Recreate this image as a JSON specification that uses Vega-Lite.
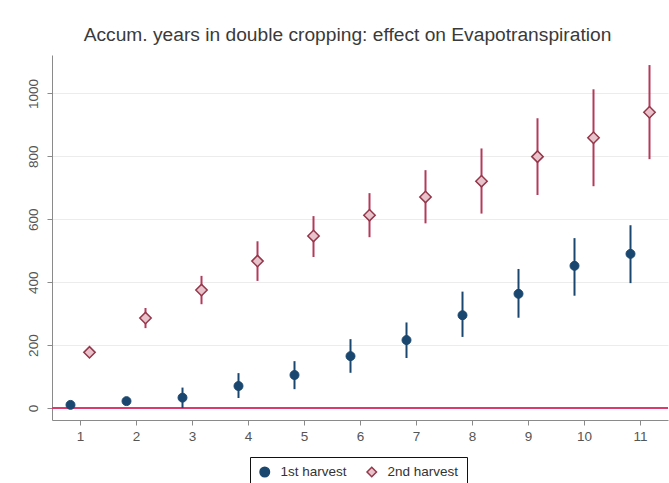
{
  "$schema": "https://vega.github.io/schema/vega-lite/v6.json",
  "width": 616,
  "height": 365,
  "autosize": {"type": "none"},
  "padding": {"left": 52, "top": 55, "right": 1, "bottom": 63},
  "background": "white",
  "config": {
    "font": "Liberation Sans",
    "view": {"stroke": null},
    "axis": {
      "domainColor": "#8a8a8a",
      "tickColor": "#8a8a8a",
      "labelColor": "#555555",
      "labelFontSize": 13.5,
      "tickSize": 5
    }
  },
  "title": {
    "text": "Accum. years in double cropping: effect on Evapotranspiration",
    "fontSize": 19.2,
    "fontWeight": "normal",
    "color": "#3a3a3a",
    "anchor": "middle",
    "frame": "bounds",
    "offset": 10
  },
  "datasets": {
    "effects": [
      {"year": 1, "harvest": "1st harvest", "est": 10, "lo": 2, "hi": 18},
      {"year": 2, "harvest": "1st harvest", "est": 22, "lo": 10, "hi": 34},
      {"year": 3, "harvest": "1st harvest", "est": 33, "lo": 0, "hi": 65},
      {"year": 4, "harvest": "1st harvest", "est": 70, "lo": 32, "hi": 111},
      {"year": 5, "harvest": "1st harvest", "est": 105, "lo": 60, "hi": 149},
      {"year": 6, "harvest": "1st harvest", "est": 165, "lo": 112, "hi": 219},
      {"year": 7, "harvest": "1st harvest", "est": 216, "lo": 159, "hi": 272},
      {"year": 8, "harvest": "1st harvest", "est": 295, "lo": 226, "hi": 370},
      {"year": 9, "harvest": "1st harvest", "est": 363, "lo": 287, "hi": 442},
      {"year": 10, "harvest": "1st harvest", "est": 452, "lo": 357, "hi": 540},
      {"year": 11, "harvest": "1st harvest", "est": 490, "lo": 397, "hi": 581},
      {"year": 1, "harvest": "2nd harvest", "est": 177, "lo": 166, "hi": 188},
      {"year": 2, "harvest": "2nd harvest", "est": 286, "lo": 254, "hi": 318},
      {"year": 3, "harvest": "2nd harvest", "est": 375, "lo": 330, "hi": 420},
      {"year": 4, "harvest": "2nd harvest", "est": 467, "lo": 404, "hi": 530},
      {"year": 5, "harvest": "2nd harvest", "est": 547, "lo": 480, "hi": 610},
      {"year": 6, "harvest": "2nd harvest", "est": 613, "lo": 543, "hi": 683},
      {"year": 7, "harvest": "2nd harvest", "est": 671, "lo": 587, "hi": 756},
      {"year": 8, "harvest": "2nd harvest", "est": 721, "lo": 618, "hi": 825},
      {"year": 9, "harvest": "2nd harvest", "est": 799, "lo": 677, "hi": 921},
      {"year": 10, "harvest": "2nd harvest", "est": 859, "lo": 705, "hi": 1013},
      {"year": 11, "harvest": "2nd harvest", "est": 940, "lo": 791, "hi": 1090}
    ],
    "zero": [{"y": 0}]
  },
  "layer": [
    {
      "data": {"name": "effects"},
      "mark": {"type": "rule", "opacity": 0},
      "encoding": {
        "x": {
          "field": "year",
          "type": "quantitative",
          "scale": {"domain": [0.5, 11.5], "nice": false, "zero": false},
          "axis": {
            "title": null,
            "values": [1, 2, 3, 4, 5, 6, 7, 8, 9, 10, 11],
            "format": "d",
            "grid": false,
            "labelPadding": 4,
            "labelFlush": false
          }
        },
        "y": {
          "field": "est",
          "type": "quantitative",
          "scale": {"domain": [-38, 1122], "nice": false, "zero": false},
          "axis": {
            "title": null,
            "values": [0, 200, 400, 600, 800, 1000],
            "format": "d",
            "grid": true,
            "gridColor": "#ececec",
            "gridWidth": 1,
            "labelAngle": 270,
            "labelAlign": "center",
            "labelBaseline": "bottom",
            "labelPadding": 7
          }
        }
      }
    },
    {
      "data": {"name": "zero"},
      "mark": {"type": "rule", "color": "#d93c6c", "strokeWidth": 2},
      "encoding": {
        "y": {"field": "y", "type": "quantitative"}
      }
    },
    {
      "data": {"name": "effects"},
      "transform": [{"filter": "datum.harvest === '1st harvest'"}],
      "mark": {"type": "rule", "strokeWidth": 2, "color": "#1a476f", "xOffset": -9.5},
      "encoding": {
        "x": {"field": "year", "type": "quantitative"},
        "y": {"field": "lo", "type": "quantitative"},
        "y2": {"field": "hi"}
      }
    },
    {
      "data": {"name": "effects"},
      "transform": [{"filter": "datum.harvest === '2nd harvest'"}],
      "mark": {"type": "rule", "strokeWidth": 2, "color": "#b33a5c", "xOffset": 9.5},
      "encoding": {
        "x": {"field": "year", "type": "quantitative"},
        "y": {"field": "lo", "type": "quantitative"},
        "y2": {"field": "hi"}
      }
    },
    {
      "data": {"name": "effects"},
      "transform": [{"filter": "datum.harvest === '1st harvest'"}],
      "mark": {"type": "point", "filled": true, "opacity": 1, "size": 80, "strokeWidth": 1, "xOffset": -9.5},
      "encoding": {
        "x": {"field": "year", "type": "quantitative"},
        "y": {"field": "est", "type": "quantitative"},
        "shape": {"field": "harvest", "type": "nominal"},
        "fill": {"field": "harvest", "type": "nominal"},
        "stroke": {"field": "harvest", "type": "nominal"}
      }
    },
    {
      "data": {"name": "effects"},
      "transform": [{"filter": "datum.harvest === '2nd harvest'"}],
      "mark": {"type": "point", "filled": true, "opacity": 1, "size": 130, "strokeWidth": 1.5, "xOffset": 9.5},
      "encoding": {
        "x": {"field": "year", "type": "quantitative"},
        "y": {"field": "est", "type": "quantitative"},
        "shape": {
          "field": "harvest",
          "type": "nominal",
          "scale": {"domain": ["1st harvest", "2nd harvest"], "range": ["circle", "diamond"]},
          "legend": {
            "title": null,
            "orient": "none",
            "legendX": 198,
            "legendY": 402,
            "direction": "horizontal",
            "strokeColor": "#111111",
            "padding": 8,
            "labelFontSize": 13.5,
            "labelColor": "#333333",
            "labelOffset": 9,
            "columnPadding": 17,
            "symbolSize": 90,
            "symbolStrokeWidth": 1.5
          }
        },
        "fill": {
          "field": "harvest",
          "type": "nominal",
          "scale": {"domain": ["1st harvest", "2nd harvest"], "range": ["#1a476f", "#e8c3cb"]}
        },
        "stroke": {
          "field": "harvest",
          "type": "nominal",
          "scale": {"domain": ["1st harvest", "2nd harvest"], "range": ["#1a476f", "#93374a"]}
        }
      }
    }
  ]
}
